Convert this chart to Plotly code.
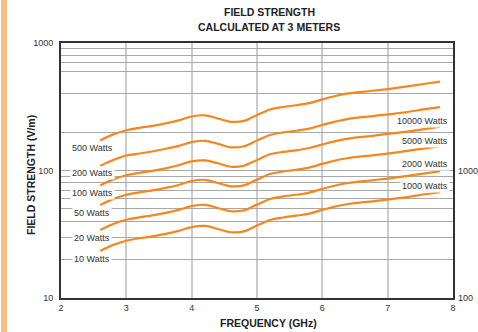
import math
import plotly.graph_objects as go

# ---------------- data ----------------
freq_ghz = [2.6, 2.8, 3.0, 3.2, 3.4, 3.6, 3.8, 4.0, 4.2, 4.4, 4.6, 4.8,
            5.0, 5.2, 5.4, 5.6, 5.8, 6.0, 6.2, 6.4, 6.8, 7.2, 7.6, 7.8]

field_500w = [172, 192, 207, 216, 224, 234, 247, 265, 271, 256, 241, 245,
              272, 301, 315, 325, 338, 361, 384, 402, 424, 449, 481, 497]
field_200w = [109, 121, 131, 136, 141, 148, 156, 167, 171, 162, 152, 155,
              172, 190, 199, 205, 213, 228, 242, 254, 268, 283, 304, 314]
field_100w = [76.3, 85.2, 91.8, 95.8, 99.4, 104, 110, 118, 120, 114, 107, 109,
              121, 134, 140, 144, 150, 160, 170, 178, 188, 199, 213, 221]
field_50w = [53.6, 59.9, 64.6, 67.4, 69.9, 73.0, 77.0, 82.7, 84.5, 79.8, 75.2, 76.4,
             84.8, 93.9, 98.2, 101.4, 105.4, 112.6, 119.8, 125.4, 132.2, 140.0, 150.0, 155.0]
field_20w = [34.2, 38.1, 41.1, 42.9, 44.5, 46.5, 49.1, 52.6, 53.8, 50.8, 47.9, 48.7,
             54.0, 59.8, 62.6, 64.5, 67.1, 71.7, 76.3, 79.8, 84.2, 89.2, 95.5, 98.7]
field_10w = [23.4, 26.1, 28.1, 29.4, 30.4, 31.8, 33.6, 36.0, 36.8, 34.8, 32.8, 33.3,
             37.0, 40.9, 42.8, 44.2, 45.9, 49.1, 52.2, 54.6, 57.6, 61.0, 65.4, 67.5]

series = [field_500w, field_200w, field_100w, field_50w, field_20w, field_10w]

left_labels = ["500 Watts", "200 Watts", "100 Watts", "50 Watts", "20 Watts", "10 Watts"]
left_label_y = [148.8, 95.6, 66.6, 46.8, 29.8, 20.4]
right_labels = ["10000 Watts", "5000 Watts", "2000 Watts", "1000 Watts"]
right_label_y = [245.8, 171.3, 112.5, 75.6]

y_gridvals = [10, 20, 30, 40, 50, 60, 70, 80, 90, 100, 200, 400, 600, 700, 800, 900, 1000]
y_ticklabels = {10: "10", 100: "100", 1000: "1000"}
y2_tickvals = [100, 1000]
x_tickvals = [2, 3, 4, 5, 6, 7, 8]

title_lines = ["FIELD STRENGTH", "CALCULATED AT 3 METERS"]

# ---------------- styles ----------------
FONT = "Liberation Sans"
ORANGE = "#F7861E"
TXT = "#333333"
PLOT_H = 255.0
PLOT_W = 392.0

fig = go.Figure()
for vals in series:
    fig.add_trace(go.Scatter(x=freq_ghz, y=vals, mode="lines",
                             line=dict(color=ORANGE, width=2.2, shape="spline", smoothing=1),
                             hoverinfo="skip", showlegend=False))
# trace to anchor the right axis
fig.add_trace(go.Scatter(x=[None], y=[None], yaxis="y2", showlegend=False, hoverinfo="skip"))

annotations = []
for txt, v in zip(left_labels, left_label_y):
    annotations.append(dict(x=2.48, y=math.log10(v), xref="x", yref="y", text=txt,
                            showarrow=False, xanchor="center", yanchor="middle",
                            bgcolor="white", borderpad=1,
                            font=dict(family=FONT, size=9, color=TXT)))
for txt, v in zip(right_labels, right_label_y):
    annotations.append(dict(x=7.955, y=math.log10(v), xref="x", yref="y", text=txt,
                            showarrow=False, xanchor="right", yanchor="middle",
                            bgcolor="white", borderpad=1,
                            font=dict(family=FONT, size=9, color=TXT)))
# titles (positions in pixels converted to paper coordinates)
for txt, py in zip(title_lines, [12, 27]):
    annotations.append(dict(x=(269 - 61) / PLOT_W, y=(298 - py) / PLOT_H,
                            xref="paper", yref="paper", text=txt, showarrow=False,
                            xanchor="center", yanchor="middle",
                            font=dict(family=FONT, size=10.5, color="#222", weight="bold")))
annotations.append(dict(x=(31 - 61) / PLOT_W, y=(298 - 175) / PLOT_H,
                        xref="paper", yref="paper", xanchor="center", yanchor="middle",
                        text="FIELD STRENGTH (V/m)", textangle=-90, showarrow=False,
                        font=dict(family=FONT, size=10.5, color="#222", weight="bold")))
annotations.append(dict(x=(268 - 61) / PLOT_W, y=(298 - 323) / PLOT_H,
                        xref="paper", yref="paper", xanchor="center", yanchor="middle",
                        text="FREQUENCY (GHz)", showarrow=False,
                        font=dict(family=FONT, size=10.5, color="#222", weight="bold")))

fig.update_layout(
    width=478, height=332,
    margin=dict(l=61, r=25, t=43, b=34, autoexpand=False),
    paper_bgcolor="white", plot_bgcolor="white",
    xaxis=dict(range=[2, 8], tickvals=x_tickvals, showgrid=True, gridcolor="#cccccc",
               gridwidth=2, showline=True, linecolor="#333", linewidth=2, mirror=True,
               zeroline=False, ticks="", automargin=False,
               tickfont=dict(family=FONT, size=9, color=TXT)),
    yaxis=dict(type="log", range=[1, 3], tickvals=y_gridvals,
               ticktext=[y_ticklabels.get(v, "") for v in y_gridvals],
               showgrid=True, gridcolor="#a8a8a8", gridwidth=1,
               showline=True, linecolor="#333", linewidth=2, mirror=True,
               zeroline=False, ticks="", ticklabelstandoff=4, automargin=False,
               tickfont=dict(family=FONT, size=9, color=TXT)),
    yaxis2=dict(type="log", range=[2, 4], overlaying="y", side="right",
                tickvals=y2_tickvals, ticktext=[str(v) for v in y2_tickvals],
                showgrid=False, showline=False, zeroline=False, ticks="",
                ticklabelstandoff=4, automargin=False,
                tickfont=dict(family=FONT, size=9, color=TXT)),
    annotations=annotations,
    shapes=[dict(type="rect", xref="paper", yref="paper",
                 x0=(1 - 61) / PLOT_W, x1=(7 - 61) / PLOT_W, y0=-0.14, y1=1.18,
                 fillcolor="#F7BE88", line=dict(width=0), layer="below")],
)

fig.write_html("out.html", config={"displayModeBar": False, "staticPlot": True},
               post_script="document.body.style.margin='0px';document.body.style.overflow='hidden';")
